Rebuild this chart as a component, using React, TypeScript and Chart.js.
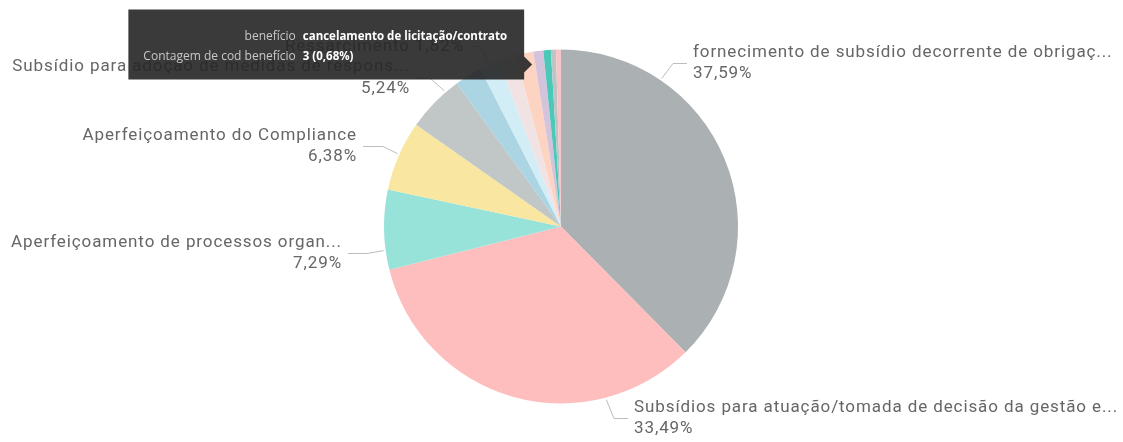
import React, { useEffect, useRef } from "react";
import { Chart, registerables } from "chart.js";

Chart.register(...registerables);

// ---------- data ----------
const CATEGORIES: string[] = [
  "fornecimento de subsídio decorrente de obrigaç...",
  "Subsídios para atuação/tomada de decisão da gestão e...",
  "Aperfeiçoamento de processos organ...",
  "Aperfeiçoamento do Compliance",
  "Subsídio para adoção de medidas de respons...",
  "Instauração de procedimento correcional",
  "Ressarcimento",
  "Alteração de normativo interno",
  "Aprimoramento de controles internos",
  "Suspensão de pagamento",
  "cancelamento de licitação/contrato",
  "Devolução de valores",
  "Outros",
];
const COUNTS: number[] = [165, 147, 32, 28, 23, 11, 8, 7, 7, 4, 3, 2, 2];
const COLORS: string[] = [
  "#ABB0B3",
  "#FFBEBE",
  "#98E3D9",
  "#F9E6A0",
  "#C1C6C6",
  "#ABD5E2",
  "#D2EDF6",
  "#F1E3E4",
  "#FDD4C2",
  "#D5C3DB",
  "#4CC8B8",
  "#BEC3C4",
  "#F7C5C7",
];
const TOOLTIP_FIELDS: string[] = ["benefício", "Contagem de cod benefício"];
const TOOLTIP_INDEX = 10;

// ---------- label layout (style, relative to pie centre) ----------
type LabelLayout = {
  index: number;
  frac: number; // position of leader start within the slice
  ex: number;
  ey: number;
  endX: number;
  align: "left" | "right";
  oneLine?: boolean;
};
const LABEL_LAYOUT: LabelLayout[] = [
  { index: 0, frac: 0.253, ex: 112, ey: -163, endX: 126, align: "left" },
  { index: 1, frac: 0.249, ex: 53, ey: 192, endX: 67, align: "left" },
  { index: 2, frac: 0.244, ex: -194, ey: 27, endX: -213, align: "right" },
  { index: 3, frac: 0.52, ex: -178, ey: -80, endX: -198, align: "right" },
  { index: 4, frac: 0.755, ex: -131, ey: -148.5, endX: -145, align: "right" },
  { index: 6, frac: 0.5, ex: -81, ey: -180, endX: -91, align: "right", oneLine: true },
];

const LABEL_FONT = "17px Roboto";
const LABEL_SPACING = "0.9px";
const LABEL_COLOR = "#666666";
const LEADER_COLOR = "#BDBDBD";

const total = COUNTS.reduce((a, b) => a + b, 0);
const pct = (v: number) => ((v / total) * 100).toFixed(2).replace(".", ",") + "%";

const labelPlugin = {
  id: "pbiLabels",
  afterDatasetsDraw(chart: any) {
    const ctx: any = chart.ctx;
    const meta = chart.getDatasetMeta(0);
    ctx.save();
    ctx.font = LABEL_FONT;
    ctx.letterSpacing = LABEL_SPACING;
    ctx.textBaseline = "middle";
    for (const l of LABEL_LAYOUT) {
      const arc = meta.data[l.index];
      const p = arc.getProps(["x", "y", "outerRadius", "startAngle", "endAngle"], true);
      const a = p.startAngle + (p.endAngle - p.startAngle) * l.frac;
      const sx = p.x + (p.outerRadius + 2) * Math.cos(a);
      const sy = p.y + (p.outerRadius + 2) * Math.sin(a);
      const ex = p.x + l.ex;
      const ey = p.y + l.ey;
      const endX = p.x + l.endX;
      ctx.strokeStyle = LEADER_COLOR;
      ctx.lineWidth = 1;
      ctx.beginPath();
      ctx.moveTo(sx, sy);
      ctx.lineTo(ex, ey);
      ctx.lineTo(endX, ey);
      ctx.stroke();
      ctx.fillStyle = LABEL_COLOR;
      const tx = l.align === "left" ? endX + 6 : endX - 6;
      ctx.textAlign = l.align;
      const name = CATEGORIES[l.index];
      const val = pct(COUNTS[l.index]);
      if (l.oneLine) {
        ctx.fillText(name + " " + val, tx, ey);
      } else {
        ctx.fillText(name, tx, ey - 11);
        ctx.fillText(val, tx, ey + 10.5);
      }
    }
    ctx.restore();
  },
};

const tooltipPlugin = {
  id: "pbiTooltip",
  afterDraw(chart: any) {
    const ctx: CanvasRenderingContext2D = chart.ctx;
    const meta = chart.getDatasetMeta(0);
    const arc = meta.data[TOOLTIP_INDEX];
    const p = arc.getProps(["x", "y", "outerRadius"], true);
    // pointer position over the chart
    const tipX = p.x - 0.163 * p.outerRadius;
    const tipY = p.y - 0.915 * p.outerRadius;
    const values = [CATEGORIES[TOOLTIP_INDEX], `${COUNTS[TOOLTIP_INDEX]} (${pct(COUNTS[TOOLTIP_INDEX])})`];
    ctx.save();
    const labelFont = "12px 'Open Sans'";
    const valueFont = "bold 11.5px 'Open Sans'";
    ctx.font = labelFont;
    const lw = Math.max(...TOOLTIP_FIELDS.map((t) => ctx.measureText(t).width));
    ctx.font = valueFont;
    const vw = Math.max(...values.map((t) => ctx.measureText(t).width));
    const padL = 15, padR = 17, gap = 7;
    const w = padL + lw + gap + vw + padR;
    const h = 70;
    const right = tipX - 8;
    const left = right - w;
    const top = tipY - 55;
    ctx.fillStyle = "rgba(38,38,38,0.91)";
    ctx.beginPath();
    ctx.rect(left, top, w, h);
    ctx.moveTo(right, tipY - 8);
    ctx.lineTo(tipX, tipY);
    ctx.lineTo(right, tipY + 8);
    ctx.closePath();
    ctx.fill();
    ctx.textBaseline = "middle";
    const rows = [top + 27, top + 47];
    rows.forEach((y, i) => {
      ctx.font = labelFont;
      ctx.fillStyle = "#C8C8C8";
      ctx.textAlign = "right";
      ctx.fillText(TOOLTIP_FIELDS[i], left + padL + lw, y);
      ctx.font = valueFont;
      ctx.fillStyle = "#FFFFFF";
      ctx.textAlign = "left";
      ctx.fillText(values[i], left + padL + lw + gap, y);
    });
    ctx.restore();
  },
};

export default function App() {
  const canvasRef = useRef<HTMLCanvasElement | null>(null);

  useEffect(() => {
    document.body.style.margin = "0";
    const canvas = canvasRef.current;
    if (!canvas) return;
    const chart = new Chart(canvas, {
      type: "pie",
      data: {
        labels: CATEGORIES,
        datasets: [
          {
            data: COUNTS,
            backgroundColor: COLORS,
            borderWidth: 0,
            hoverOffset: 0,
          },
        ],
      },
      options: {
        responsive: false,
        animation: false,
        events: [],
        layout: { padding: { left: 384, right: 385, top: 49, bottom: 38 } },
        plugins: {
          legend: { display: false },
          tooltip: { enabled: false },
        },
      },
      plugins: [labelPlugin, tooltipPlugin],
    });
    return () => chart.destroy();
  }, []);

  return (
    <div style={{ width: 1123, height: 442, position: "relative", background: "#fff" }}>
      <canvas ref={canvasRef} width={1123} height={442} style={{ display: "block" }} />
    </div>
  );
}
